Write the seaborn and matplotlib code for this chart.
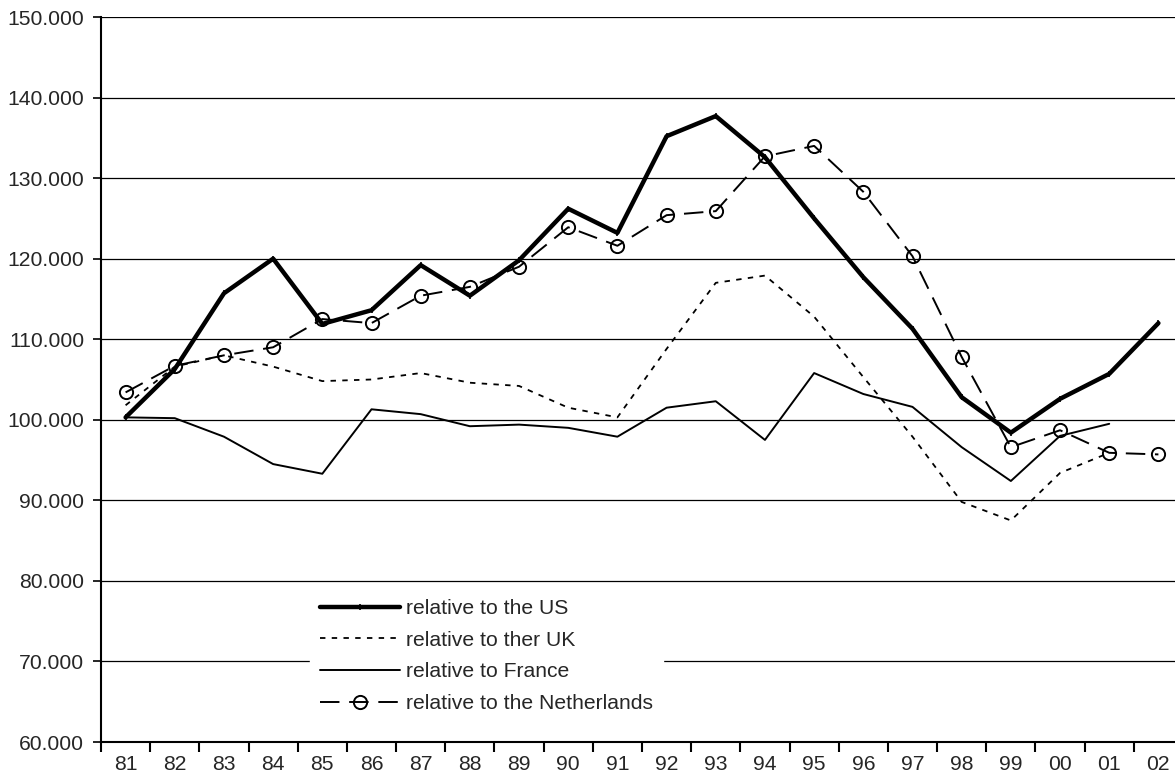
import numpy as np
import pandas as pd
import matplotlib
matplotlib.use("Agg")
import matplotlib.pyplot as plt
from matplotlib.ticker import FuncFormatter, FixedLocator
import seaborn as sns

# ─────────────────────────────────────────────
# DATA
# ─────────────────────────────────────────────
years = ["81", "82", "83", "84", "85", "86", "87", "88", "89", "90", "91",
         "92", "93", "94", "95", "96", "97", "98", "99", "00", "01", "02"]

rel_us = [100.3, 106.3, 115.7, 120.0, 111.9, 113.6, 119.2, 115.4, 119.8, 126.2, 123.2,
          135.2, 137.7, 132.6, 125.0, 117.7, 111.3, 102.8, 98.4, 102.6, 105.7, 112.0]
rel_uk = [101.8, 106.6, 108.0, 106.6, 104.8, 105.0, 105.8, 104.6, 104.2, 101.5, 100.3,
          108.8, 117.0, 117.9, 112.8, 105.3, 97.9, 89.8, 87.5, 93.4, 95.9, np.nan]
rel_france = [100.3, 100.2, 97.9, 94.5, 93.3, 101.3, 100.7, 99.2, 99.4, 99.0, 97.9,
              101.5, 102.3, 97.5, 105.8, 103.2, 101.6, 96.6, 92.4, 98.0, 99.5, np.nan]
rel_nl = [103.4, 106.7, 108.0, 109.0, 112.5, 112.0, 115.4, 116.5, 119.0, 123.9, 121.6,
          125.4, 125.9, 132.7, 134.0, 128.3, 120.3, 107.8, 96.6, 98.7, 95.9, 95.7]

labels = ["relative to the US", "relative to ther UK",
          "relative to France", "relative to the Netherlands"]

# ─────────────────────────────────────────────
# STYLE
# ─────────────────────────────────────────────
sns.set_style("white")
plt.rcParams["font.family"] = ["Liberation Sans", "DejaVu Sans"]
FS = 15.2

fig = plt.figure(figsize=(11.75, 7.82), dpi=100)
ax = fig.add_axes([101 / 1175, 40 / 782, 1082 / 1175, 725 / 782])

x = np.arange(len(years))
df = pd.DataFrame({"x": x, "us": rel_us, "uk": rel_uk,
                   "fr": rel_france, "nl": rel_nl})

sns.lineplot(data=df, x="x", y="us", ax=ax, color="black", linewidth=3.2,
             marker="|", markersize=5, markeredgewidth=1.2,
             markeredgecolor="black", label=labels[0])
sns.lineplot(data=df, x="x", y="uk", ax=ax, color="black", linewidth=1.3,
             label=labels[1])
sns.lineplot(data=df, x="x", y="fr", ax=ax, color="black", linewidth=1.4,
             label=labels[2])
sns.lineplot(data=df, x="x", y="nl", ax=ax, color="black", linewidth=1.4,
             marker="o", markersize=9.5, markerfacecolor="none",
             markeredgecolor="black", markeredgewidth=1.4, label=labels[3])

lines = ax.get_lines()
lines[1].set_linestyle((0, (3, 3.5)))
lines[3].set_linestyle((0, (10, 5)))

# ─────────────────────────────────────────────
# AXES
# ─────────────────────────────────────────────
ax.set_xlim(-0.5, len(years) - 0.5)
ax.set_ylim(60, 150)
ax.set_yticks(np.arange(60, 151, 10))
ax.yaxis.set_major_formatter(FuncFormatter(lambda v, p: f"{v:.3f}"))
ax.tick_params(axis="y", labelsize=FS, length=6, width=1.2, direction="out",
               left=True, pad=6, color="black")

# ticks between categories, labels at category centres
ax.xaxis.set_major_locator(FixedLocator(np.arange(-0.5, len(years), 1.0)))
ax.xaxis.set_minor_locator(FixedLocator(x))
ax.set_xticklabels([], minor=False)
ax.set_xticklabels(years, minor=True)
ax.tick_params(axis="x", which="major", length=7, width=1.5, direction="out",
               bottom=True, color="black")
ax.tick_params(axis="x", which="minor", length=0, labelsize=FS, pad=9)

ax.grid(axis="y", color="black", linewidth=0.9)
ax.grid(axis="x", visible=False)
ax.set_axisbelow(True)
for side in ["top", "right"]:
    ax.spines[side].set_visible(False)
for side in ["left", "bottom"]:
    ax.spines[side].set_color("black")
    ax.spines[side].set_linewidth(1.5)
ax.set_xlabel("")
ax.set_ylabel("")

leg = ax.legend(loc="upper left", bbox_to_anchor=(198 / 1082, (742 - 578) / 725),
                frameon=True, fontsize=FS, handlelength=3.8, handletextpad=0.25,
                labelspacing=0.6, borderpad=0.5, fancybox=False)
leg.get_frame().set_facecolor("white")
leg.get_frame().set_edgecolor("white")
leg.get_frame().set_alpha(1)

plt.savefig("out.png", dpi=100)
